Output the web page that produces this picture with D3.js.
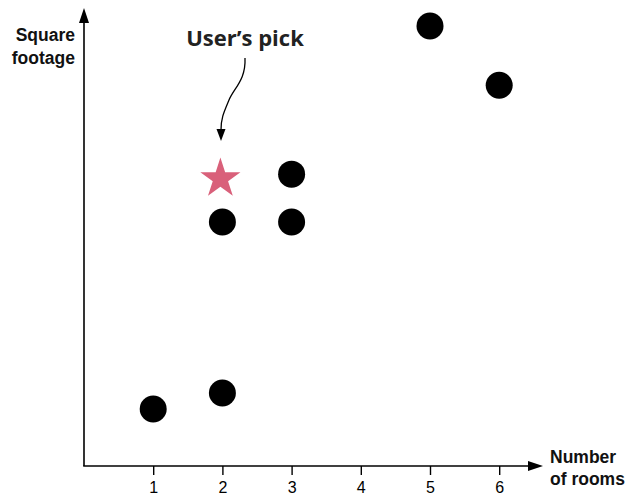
<!DOCTYPE html>
<html><head><meta charset="utf-8">
<script src="https://cdn.jsdelivr.net/npm/d3@7"></script>
<style>body{margin:0;background:#fff}svg{display:block}</style>
</head><body><svg id="c" width="629" height="498"></svg>
<script>
const rooms = [1, 2, 2, 3, 3, 5, 6];
const sqft = [250, 320, 1070, 1070, 1280, 1930, 1670];
const pickRooms = 2;
const pickSqft = 1260;
const xTicks = [1, 2, 3, 4, 5, 6];
const xLabel = ["Number", "of rooms"];
const yLabel = ["Square", "footage"];
const annotation = "User\u2019s pick";

const svg = d3.select("#c");
const x = d3.scaleLinear().domain([0, 6]).range([84, 499.2]);
const y = d3.scaleLinear().domain([0, 2000]).range([466, 10]);

// axes lines with arrowheads
svg.append("line").attr("x1", 84).attr("y1", 466).attr("x2", 84).attr("y2", 20)
  .attr("stroke", "#000").attr("stroke-width", 1.6);
svg.append("path").attr("d", "M84,8 L79,23 L89,23 Z").attr("fill", "#000");
svg.append("line").attr("x1", 83.2).attr("y1", 466).attr("x2", 530).attr("y2", 466)
  .attr("stroke", "#000").attr("stroke-width", 1.6);
svg.append("path").attr("d", "M543,466 L528,461 L528,471 Z").attr("fill", "#000");

// x axis ticks via d3 axis
const ax = svg.append("g").attr("transform", "translate(0,466)")
  .call(d3.axisBottom(x).tickValues(xTicks).tickSize(9).tickPadding(7).tickFormat(d3.format("d")));
ax.select(".domain").remove();
ax.selectAll(".tick line").attr("stroke", "#000").attr("stroke-width", 1.4);
ax.selectAll(".tick text").attr("font-family", "Liberation Sans, Arial, sans-serif")
  .attr("font-size", 16).attr("fill", "#000").attr("dy", "0.71em");

// axis labels
const lab = (arr, xx, yy, anchor, lh) => {
  const t = svg.append("text").attr("x", xx).attr("y", yy).attr("text-anchor", anchor)
    .attr("font-family", "Liberation Sans, Arial, sans-serif").attr("font-weight", "bold")
    .attr("font-size", 17.5).attr("fill", "#111");
  arr.forEach((s, i) => t.append("tspan").attr("x", xx).attr("dy", i ? lh : 0).text(s));
};
lab(yLabel, 75, 41, "end", 23);
lab(xLabel, 550, 463, "start", 22);

// points
svg.append("g").selectAll("circle").data(rooms.map((r, i) => [r, sqft[i]])).join("circle")
  .attr("cx", d => x(d[0])).attr("cy", d => y(d[1])).attr("r", 13.5).attr("fill", "#000");

// star
svg.append("path").attr("d", d3.symbol(d3.symbolStar, 500)())
  .attr("transform", `translate(${x(pickRooms) - 2},${y(pickSqft)})`)
  .attr("fill", "#d9607a");

// annotation
svg.append("text").attr("x", 245).attr("y", 46).attr("text-anchor", "middle")
  .attr("font-family", "Open Sans, DejaVu Sans Condensed, sans-serif")
  .style("font-stretch", "93%")
  .attr("font-weight", "bold").attr("font-size", 22).attr("fill", "#222").text(annotation);
svg.append("path").attr("d", "M245,58 C246,80 234,88 229,100 C224,112 221,118 221,130")
  .attr("fill", "none").attr("stroke", "#000").attr("stroke-width", 1.3);
svg.append("path").attr("d", "M221,141 L216.5,129 L225.5,129 Z").attr("fill", "#000");
</script></body></html>
